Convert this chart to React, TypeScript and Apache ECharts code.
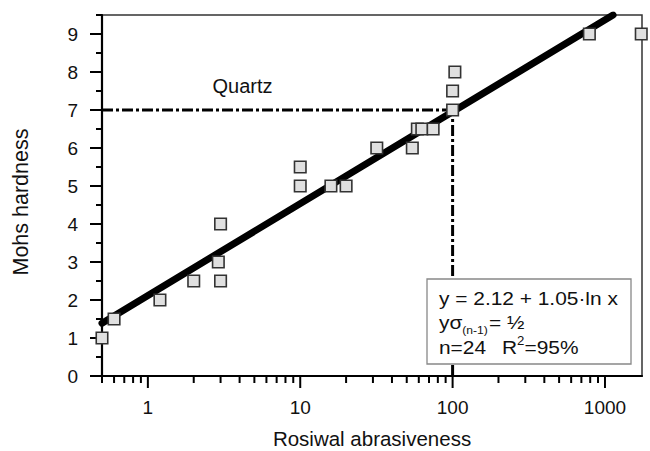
import React, { useEffect, useRef } from 'react';
import * as echarts from 'echarts';

// Data
const abrasiveness = [0.5, 0.6, 1.2, 2.0, 2.9, 3.0, 3.0, 10, 10, 15.9, 20, 31.8, 54.4, 58.7, 62.8, 74.5, 100, 100, 103.5, 790, 1730];
const hardness = [1, 1.5, 2, 2.5, 3, 2.5, 4, 5.5, 5, 5, 5, 6, 6, 6.5, 6.5, 6.5, 7, 7.5, 8, 9, 9];
const fitX = [0.5, 1130];
const fitY = [1.39, 9.5];
const quartzHardness = 7;
const quartzAbrasiveness = 100;
const xMajorTicks = [1, 10, 100, 1000];
const xMinorTicks = [0.5, 0.6, 0.7, 0.8, 0.9, 2, 3, 4, 5, 6, 7, 8, 9, 20, 30, 40, 50, 60, 70, 80, 90, 200, 300, 400, 500, 600, 700, 800, 900];
const yMajorTicks = [0, 1, 2, 3, 4, 5, 6, 7, 8, 9];
const yMinorTicks = [0.5, 1.5, 2.5, 3.5, 4.5, 5.5, 6.5, 7.5, 8.5, 9.5];
const X_MIN = 0.5;
const X_MAX = 1750;
const Y_MIN = 0;
const Y_MAX = 9.5;

const FONT = '"Liberation Sans", Arial, sans-serif';

function measure(text: string, size: number): number {
  const c = document.createElement('canvas');
  const ctx = c.getContext('2d');
  if (!ctx) return text.length * size * 0.55;
  ctx.font = `${size}px "Liberation Sans"`;
  return ctx.measureText(text).width;
}

export default function App() {
  const ref = useRef<HTMLDivElement>(null);
  useEffect(() => {
    if (!ref.current) return;
    const chart = echarts.init(ref.current, undefined, { renderer: 'svg' });

    const scatterData = abrasiveness.map((x, i) => [x, hardness[i]]);
    const fitData = fitX.map((x, i) => [x, fitY[i]]);
    const xTickData = [
      ...xMajorTicks.map((v) => [v, Y_MIN, 1]),
      ...xMinorTicks.map((v) => [v, Y_MIN, 0]),
    ];
    const yTickData = [
      ...yMajorTicks.map((v) => [X_MIN, v, 1]),
      ...yMinorTicks.map((v) => [X_MIN, v, 0]),
    ];

    const SX = 1.1;
    const FS = 19;
    const LX = 439;
    const txt = (
      x: number,
      y: number,
      text: string,
      size: number,
      sx = 1,
      align = 'left',
      rotation = 0,
      lineHeight?: number
    ) => ({
      type: 'text',
      x,
      y,
      scaleX: sx,
      rotation,
      z: 110,
      style: {
        text,
        font: `${size}px ${FONT}`,
        fill: '#111',
        align,
        textAlign: align,
        verticalAlign: 'middle',
        textVerticalAlign: 'middle',
        ...(lineHeight ? { lineHeight } : {}),
      },
    });

    const w1 = measure('y\u03c3', FS) * SX;
    const w2 = measure('(n-1)', 11) * SX;
    const wR = measure('R', FS) * SX;
    const w2s = measure('2', 12) * SX;
    const RX = 502;

    const option: any = {
      animation: false,
      backgroundColor: '#ffffff',
      grid: {
        left: 102,
        right: 8,
        top: 15,
        bottom: 75,
        show: true,
        borderColor: '#333',
        borderWidth: 1.5,
        backgroundColor: 'transparent',
      },
      xAxis: {
        type: 'log',
        logBase: 10,
        min: X_MIN,
        max: X_MAX,
        axisLine: { show: true, onZero: false, lineStyle: { color: '#000', width: 2.2 } },
        axisTick: { show: false },
        splitLine: { show: false },
        minorTick: { show: false },
        axisLabel: {
          margin: 22,
          color: '#111',
          fontSize: 19,
          fontFamily: FONT,
          formatter: (v: number) => {
            const l = Math.log10(v);
            return Math.abs(l - Math.round(l)) < 1e-6 && v >= 1 ? String(Math.round(v)) : '';
          },
        },
      },
      yAxis: {
        type: 'value',
        min: Y_MIN,
        max: Y_MAX,
        interval: 1,
        axisLine: { show: true, onZero: false, lineStyle: { color: '#000', width: 2.2 } },
        axisTick: { show: false },
        splitLine: { show: false },
        axisLabel: {
          margin: 24,
          color: '#111',
          fontSize: 19,
          fontFamily: FONT,
          showMaxLabel: false,
          formatter: (v: number) => (Number.isInteger(v) ? String(v) : ''),
        },
      },
      series: [
        {
          type: 'custom',
          coordinateSystem: 'cartesian2d',
          clip: false,
          silent: true,
          z: 1,
          encode: { x: 0, y: 1 },
          data: xTickData,
          renderItem: (params: any, api: any) => {
            const p = api.coord([api.value(0), api.value(1)]);
            const len = api.value(2) ? 12 : 7;
            return {
              type: 'line',
              shape: { x1: p[0], y1: p[1], x2: p[0], y2: p[1] + len },
              style: { stroke: '#000', lineWidth: 2 },
            };
          },
        },
        {
          type: 'custom',
          coordinateSystem: 'cartesian2d',
          clip: false,
          silent: true,
          z: 1,
          encode: { x: 0, y: 1 },
          data: yTickData,
          renderItem: (params: any, api: any) => {
            const p = api.coord([api.value(0), api.value(1)]);
            const len = api.value(2) ? 12 : 6;
            return {
              type: 'line',
              shape: { x1: p[0] - len, y1: p[1], x2: p[0], y2: p[1] },
              style: { stroke: '#000', lineWidth: 2 },
            };
          },
        },
        {
          type: 'line',
          data: fitData,
          symbol: 'none',
          z: 2,
          lineStyle: { color: '#000', width: 7, cap: 'round' },
        },
        {
          type: 'line',
          data: [[X_MIN, quartzHardness], [quartzAbrasiveness, quartzHardness]],
          symbol: 'none',
          z: 3,
          lineStyle: { color: '#000', width: 3, type: [11, 3, 3, 3] },
        },
        {
          type: 'line',
          data: [[quartzAbrasiveness, Y_MIN], [quartzAbrasiveness, quartzHardness]],
          symbol: 'none',
          z: 3,
          lineStyle: { color: '#000', width: 3, type: [11, 3, 3, 3] },
        },
        {
          type: 'scatter',
          data: scatterData,
          symbol: 'rect',
          symbolSize: 11.5,
          clip: false,
          z: 5,
          itemStyle: { color: '#e0e0e0', borderColor: '#333', borderWidth: 1.6, opacity: 1 },
        },
      ],
      graphic: [
        txt(21, 202, 'Mohs hardness', 21.5, 1, 'center', Math.PI / 2),
        txt(372, 438.5, 'Rosiwal abrasiveness', 20.5, 1, 'center', 0, 16),
        txt(242.5, 86, 'Quartz', 20, 1, 'center'),
        {
          type: 'rect',
          z: 100,
          shape: { x: 427, y: 279, width: 204, height: 85 },
          style: { fill: '#fff', stroke: '#888', lineWidth: 1.3 },
        },
        txt(LX, 298.5, 'y = 2.12 + 1.05\u00b7ln x', FS, SX),
        txt(LX, 322.5, 'y\u03c3', FS, SX),
        txt(LX + w1, 330, '(n-1)', 11, SX),
        txt(LX + w1 + w2 + 1, 322.5, '= \u00bd', FS, SX),
        txt(LX, 347.5, 'n=24', FS, SX),
        txt(RX, 347.5, 'R', FS, SX),
        txt(RX + wR, 341, '2', 12, SX),
        txt(RX + wR + w2s, 347.5, '=95%', FS, SX),
      ],
    };
    chart.setOption(option);
    return () => chart.dispose();
  }, []);
  return (
    <div
      ref={ref}
      style={{ position: 'absolute', left: 0, top: 0, width: 650, height: 451 }}
    />
  );
}
